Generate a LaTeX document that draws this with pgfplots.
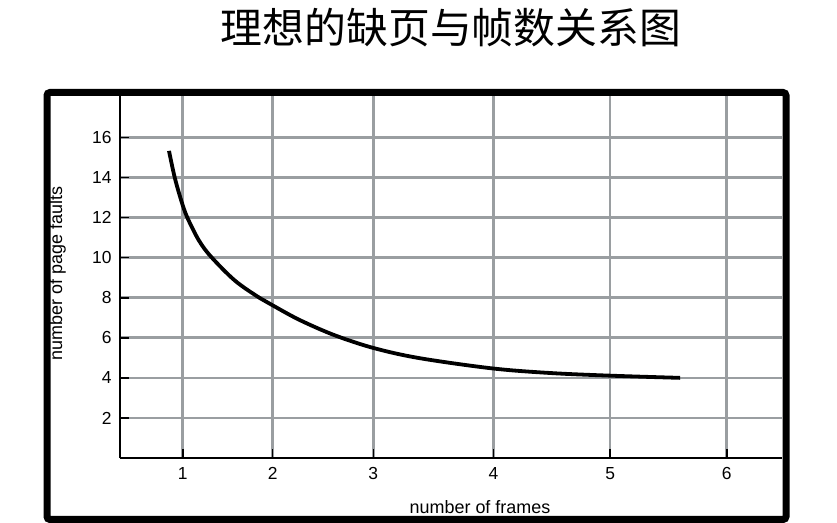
\documentclass[border=0pt]{standalone}
\usepackage{pgfplots}
\pgfplotsset{compat=1.18}
\usepackage{fontspec}
\setmainfont{Liberation Sans}
\newfontfamily\cjk{Noto Sans CJK SC}
\definecolor{gridgray}{RGB}{154,158,161}
\begin{document}
\begin{tikzpicture}
\useasboundingbox (0,0) rectangle (837bp,523bp);
\begin{axis}[
  at={(120bp,65bp)}, anchor=south west,
  scale only axis, width=662bp, height=362bp,
  xmin=0.4237, xmax=6.508, ymin=0, ymax=18.07,
  axis lines=left, axis line style={-, line width=2bp, black},
  xtick={1,1.827,2.752,3.855,4.928,6}, xticklabels={1,2,3,4,5,6},
  ytick={2,4,...,16},
  tick align=inside, major tick length=9bp,
  tick style={black, line width=1.6bp},
  grid=major, major grid style={gridgray, line width=2.6bp},
  ticklabel style={font=\fontsize{17.5}{20}\selectfont},
  yticklabel style={xshift=-5bp},
  xticklabel style={yshift=-6bp},
  /pgf/number format/assume math mode=true,
]
\addplot[black, line width=3.8bp, smooth, tension=0.55] coordinates {
  (0.874,15.33) (0.929,13.95) (1.000,12.62) (1.051,11.90) (1.150,10.85)
  (1.260,10.05) (1.481,8.85) (1.710,7.98) (1.833,7.60) (2.078,6.88)
  (2.400,6.12) (2.761,5.48) (3.181,4.98) (3.849,4.47) (4.385,4.24)
  (4.928,4.11) (5.572,4.00)
};
\end{axis}
\draw[line width=7bp, rounded corners=3bp] (47bp,3.5bp) rectangle (786bp,430.5bp);
\node[font=\fontsize{18}{20}\selectfont, anchor=base] at (480bp,10bp) {number of frames};
\node[font=\fontsize{18}{20}\selectfont, rotate=90, anchor=center] at (57.5bp,249.5bp) {number of page faults};
\node[font=\cjk\fontsize{42}{48}\selectfont, anchor=center] at (451bp,495bp) {理想的缺页与帧数关系图};
\end{tikzpicture}
\end{document}
